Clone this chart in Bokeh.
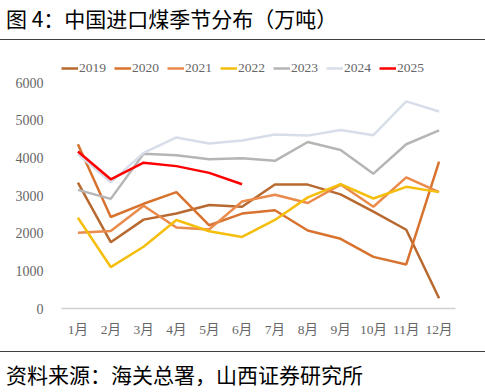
from bokeh.plotting import figure
from bokeh.models import Div, Legend, LegendItem, Range1d, FactorRange, FixedTicker
from bokeh.layouts import column
from bokeh.embed import file_html
from bokeh.resources import INLINE

title_text = "图 4：中国进口煤季节分布（万吨）"
source_text = "资料来源：海关总署，山西证券研究所"

months = ["1月", "2月", "3月", "4月", "5月", "6月", "7月", "8月", "9月", "10月", "11月", "12月"]
y_ticks = [0, 1000, 2000, 3000, 4000, 5000, 6000]

y2019 = [3340, 1760, 2360, 2520, 2750, 2700, 3290, 3290, 3030, 2570, 2090, 270]
y2020 = [4360, 2430, 2780, 3090, 2210, 2520, 2610, 2070, 1850, 1370, 1170, 3900]
y2021 = [2010, 2060, 2730, 2150, 2100, 2840, 3020, 2800, 3290, 2700, 3480, 3090]
y2022 = [2410, 1100, 1640, 2350, 2050, 1900, 2350, 2950, 3300, 2920, 3230, 3090]
y2023 = [3150, 2910, 4110, 4070, 3960, 3990, 3920, 4420, 4210, 3580, 4360, 4730]
y2024 = [4100, 3350, 4130, 4540, 4380, 4460, 4620, 4590, 4740, 4600, 5500, 5230]
y2025 = [4170, 3430, 3870, 3780, 3600, 3300]

series = [
    ("2019", y2019, "#B8692F"),
    ("2020", y2020, "#D8732F"),
    ("2021", y2021, "#EA8A4B"),
    ("2022", y2022, "#F5BE0C"),
    ("2023", y2023, "#B5B5B5"),
    ("2024", y2024, "#D7DDE9"),
    ("2025", y2025, "#FF0000"),
]

W = 485
TOP_H, MAIN_H, BOT_H = 40, 311, 40
label_font = "Liberation Serif, Noto Sans CJK SC"
label_color = "#666666"

# main figure occupies page y 40..351; frame from page y 55 to 308
p = figure(width=W, height=MAIN_H, x_range=FactorRange(factors=months, range_padding=0),
           y_range=Range1d(0, 6000 * (308 - 55) / 226.0), output_backend="svg",
           toolbar_location=None, min_border_left=61, min_border_right=30,
           min_border_top=55 - TOP_H, min_border_bottom=TOP_H + MAIN_H - 308, margin=0)
p.outline_line_color = None
p.xgrid.grid_line_color = None
p.ygrid.grid_line_color = None
p.border_fill_alpha = 0
p.background_fill_alpha = 0

items = []
for name, vals, col in series:
    r = p.line(x=months[:len(vals)], y=vals, line_color=col, line_width=2.5)
    items.append(LegendItem(label=name, renderers=[r]))

p.yaxis.ticker = FixedTicker(ticks=y_ticks)
p.yaxis.axis_line_color = None
p.yaxis.major_tick_line_color = None
p.yaxis.minor_tick_line_color = None
p.yaxis.major_tick_out = 0
p.yaxis.major_tick_in = 0
p.yaxis.major_label_standoff = 18
p.yaxis.major_label_text_font = label_font
p.yaxis.major_label_text_font_size = "14px"
p.yaxis.major_label_text_color = label_color

p.xaxis.axis_line_color = "#D0D0D0"
p.xaxis.axis_line_width = 1.5
p.xaxis.major_tick_line_color = None
p.xaxis.minor_tick_line_color = None
p.xaxis.major_tick_out = 0
p.xaxis.major_tick_in = 0
p.xaxis.major_label_standoff = 13
p.xaxis.major_label_text_font = label_font
p.xaxis.major_label_text_font_size = "13.5px"
p.xaxis.major_label_text_color = label_color

legend = Legend(items=items, orientation="horizontal", location=(0, 230),
                padding=0, margin=0, spacing=8, glyph_width=17, glyph_height=20,
                label_height=20, label_standoff=1, border_line_color=None,
                background_fill_alpha=0, label_text_font=label_font,
                label_text_font_size="13.5px", label_text_color=label_color)
p.add_layout(legend)

title_div = Div(text=title_text, width=W, height=TOP_H, margin=0,
                styles={"box-sizing": "border-box", "border-bottom": "1.5px solid #404040",
                        "font-family": "Noto Sans CJK SC", "font-size": "21px",
                        "line-height": "24px", "padding-left": "6px", "padding-top": "6px",
                        "color": "#000000", "white-space": "nowrap"})
source_div = Div(text=source_text, width=W, height=BOT_H, margin=0,
                 styles={"box-sizing": "border-box", "border-top": "1.5px solid #404040",
                         "font-family": "Noto Sans CJK SC", "font-size": "21px",
                         "line-height": "24px", "padding-left": "6px", "padding-top": "10px",
                         "color": "#000000", "white-space": "nowrap"})

layout = column(title_div, p, source_div, spacing=0, margin=0)

open("out.html", "w").write(file_html(layout, INLINE))
